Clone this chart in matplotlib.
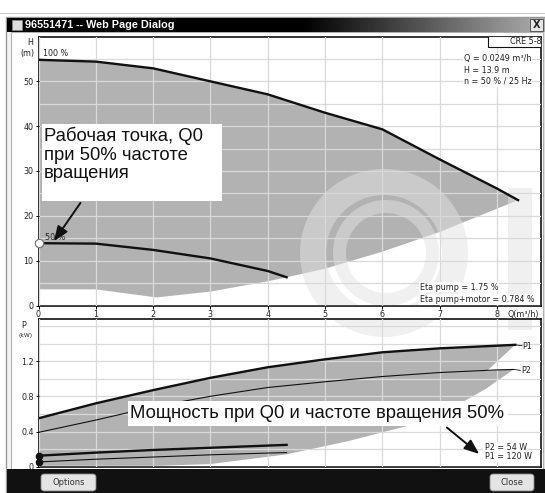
import numpy as np
import matplotlib.pyplot as plt
from matplotlib.patches import Rectangle, Annulus, FancyBboxPatch

# head curves, H (m) over Q (m3/h)
q_h100 = [0, 1, 2, 3, 4, 5, 6, 7, 8, 8.37]
h_100 = [54.8, 54.4, 52.9, 50.0, 47.1, 43.0, 39.3, 32.6, 26.1, 23.5]
q_h50 = [0, 1, 2, 3, 4, 4.33]
h_50 = [13.9, 13.8, 12.4, 10.5, 7.7, 6.3]
q_hmin = [0, 1, 2.06, 3, 4, 4.33, 5, 6, 7, 8.37]
h_min = [3.6, 3.6, 1.8, 3.1, 5.4, 6.3, 8.2, 12.0, 16.4, 23.5]

# power curves, P (kW)
q_p1 = [0, 1, 2, 3, 4, 5, 6, 7, 8, 8.32]
p1_100 = [0.55, 0.72, 0.87, 1.01, 1.13, 1.22, 1.30, 1.345, 1.375, 1.385]
q_p2 = [0, 1, 2, 3, 4, 5, 6, 7, 8, 8.29]
p2_100 = [0.39, 0.53, 0.68, 0.80, 0.90, 0.965, 1.025, 1.07, 1.10, 1.105]
q_p1_low = [8.32, 7.82]
p1_low = [1.385, 1.085]
q_p2_low = [0, 2.1, 3.0, 4.33, 5.4, 6.6, 7.15, 7.82, 8.29]
p2_low = [0.01, 0.01, 0.03, 0.14, 0.29, 0.49, 0.64, 0.89, 1.105]
q_p50 = [0, 1, 2, 3, 4, 4.33]
p1_50 = [0.125, 0.16, 0.19, 0.215, 0.24, 0.248]
p2_50 = [0.054, 0.085, 0.11, 0.135, 0.155, 0.16]

x_ticks = [0, 1, 2, 3, 4, 5, 6, 7, 8]
h_ticks = [0, 10, 20, 30, 40, 50]
p_ticks = [0, 0.4, 0.8, 1.2]
p_tick_labels = ['0', '0.4', '0.8', '1.2']

W, H = 545, 493
fig = plt.figure(figsize=(W / 100, H / 100), dpi=100)


def box(x0, y0, x1, y1):
    # pixel box measured from the top left -> figure fraction rect
    return [x0 / W, 1 - y1 / H, (x1 - x0) / W, (y1 - y0) / H]


def fig_rect(x0, y0, x1, y1, zorder=-5, **kw):
    r = box(x0, y0, x1, y1)
    fig.add_artist(Rectangle((r[0], r[1]), r[2], r[3], transform=fig.transFigure,
                             zorder=zorder, **kw))


small = dict(fontsize=5.8, family='DejaVu Sans', color='#222222')
big = dict(fontsize=13.3, family='Liberation Sans', color='#111111')
fill_grey = '#b2b2b2'
grid_grey = '#d9d9d9'

# ---- window chrome
fig_rect(0, 13.5, 545, 14.2, fc='#c8c8c8', ec='none')
fig_rect(6, 17, 545, 493, fc='#f4f4f4', ec='#9a9a9a', lw=1)
fig_rect(11, 32, 543, 469, fc='white', ec='#b0b0b0', lw=0.8)

ax_t = fig.add_axes(box(7, 18, 545, 32))
grad = np.clip((np.linspace(0, 1, 400) - 0.55) / 0.45, 0, 1) * 0.68
ax_t.imshow(grad[None, :], cmap='gray', vmin=0, vmax=1, aspect='auto', extent=(0, 1, 0, 1))
ax_t.set_xlim(0, 1)
ax_t.set_ylim(0, 1)
ax_t.axis('off')
ax_t.add_patch(Rectangle((0.01, 0.15), 0.017, 0.7, fc='#dddddd', ec='#888888', lw=0.6))
ax_t.text(0.034, 0.5, '96551471 -- Web Page Dialog', color='white', fontsize=7.8,
          family='Liberation Sans', weight='bold', va='center')
ax_t.add_patch(Rectangle((0.972, 0.1), 0.024, 0.8, fc='#e6e6e6', ec='#555555', lw=0.7))
ax_t.text(0.984, 0.5, 'X', fontsize=7, weight='bold', ha='center', va='center', color='#222222')

fig_rect(7, 469, 545, 493, fc='#111111', ec='none')
for x0, x1, label in [(41, 96, 'Options'), (490, 534, 'Close')]:
    r = box(x0, 474, x1, 491)
    fig.add_artist(FancyBboxPatch((r[0], r[1]), r[2], r[3], transform=fig.transFigure,
                                  boxstyle='round,pad=0,rounding_size=0.006',
                                  fc='#e4e4e4', ec='#888888', lw=0.6))
    fig.text(r[0] + r[2] / 2, r[1] + r[3] / 2, label, ha='center', va='center',
             fontsize=6, family='DejaVu Sans', color='#333333')


def watermark(a):
    kw = dict(transform=fig.dpi_scale_trans, fc='#e2e2e2', ec='none', alpha=0.5, zorder=1.5)
    a.add_patch(Annulus((3.84, 2.40), 0.84, 0.26, **kw))
    a.add_patch(Annulus((3.86, 2.40), 0.53, 0.13, **kw))
    a.add_patch(Rectangle((5.08, 1.63), 0.24, 1.42, **kw))


def style(a):
    a.set_axisbelow(False)
    a.grid(True, which='both', color=grid_grey, lw=0.9)
    for s in a.spines.values():
        s.set_color('#111111')
        s.set_linewidth(1.2)
    a.tick_params(which='major', direction='out', length=2, width=0.7, pad=1.5, labelsize=5.8,
                  labelcolor='#222222')
    a.tick_params(which='minor', length=0)


# ---- head chart
ax = fig.add_axes(box(38.5, 36.5, 541, 305.5))
ax.fill(np.concatenate([q_h100, q_hmin[::-1]]), np.concatenate([h_100, h_min[::-1]]),
        color=fill_grey, lw=0, zorder=1)
watermark(ax)
ax.plot(q_h100, h_100, color='#111111', lw=1.7, zorder=3)
ax.plot(q_h50, h_50, color='#111111', lw=1.7, zorder=3)
ax.plot(q_h50[0], h_50[0], 'o', ms=6, mfc='white', mec='#777777', mew=0.9, zorder=4, clip_on=False)
ax.set_xticks(x_ticks)
ax.set_yticks(h_ticks)
ax.set_yticks([5, 15, 25, 35, 45, 55], minor=True)
style(ax)
ax.set_xlim(0, 8.77)
ax.set_ylim(0, 60)

ax.text(0.08, h_100[0] + 0.4, '100 %', va='bottom', **small)
ax.text(0.12, h_50[0] + 0.3, '50 %', va='bottom', **small)
ax.text(-0.011, 0.978, 'H', transform=ax.transAxes, ha='right', va='center', **small)
ax.text(-0.008, 0.9375, '(m)', transform=ax.transAxes, ha='right', va='center', **small)
ax.text(0.997, -0.032, 'Q(m³/h)', transform=ax.transAxes, ha='right', va='center', **small)
ax.add_patch(Rectangle((0.8945, 0.961), 0.1055, 0.039, transform=ax.transAxes,
                       fc='white', ec='#111111', lw=0.8, zorder=5))
ax.text(0.97, 0.981, 'CRE 5-8', transform=ax.transAxes, ha='center', va='center', zorder=6, **small)
bg = dict(fc='white', ec='none', pad=0.6)
for yy, s in [(55.0, 'Q = 0.0249 m³/h'), (52.4, 'H = 13.9 m'), (50.0, 'n = 50 % / 25 Hz')]:
    ax.text(7.42, yy, s, va='center', bbox=bg, zorder=6, **small)
for yy, s in [(4.1, 'Eta pump = 1.75 %'), (1.3, 'Eta pump+motor = 0.784 %')]:
    ax.text(6.65, yy, s, va='center', bbox=bg, zorder=6, **small)

ax.add_patch(Rectangle((0.056, 23.4), 3.14, 17.1, fc='white', ec='none', zorder=6))
ax.text(0.09, 39.8, 'Рабочая точка, Q0\nпри 50% частоте\nвращения', va='top',
        linespacing=1.1, zorder=7, **big)
ax.annotate('', xy=(0.24, 13.8), xytext=(0.76, 23.4), zorder=7,
            arrowprops=dict(arrowstyle='-|>,head_length=0.9,head_width=0.35', color='#111111', lw=1.4))

# ---- power chart
ax2 = fig.add_axes(box(38.5, 319.3, 541, 466.7))
q_cross, p_cross = q_p1_low[-1], p1_low[-1]
poly_q = q_p1 + [q_cross] + [q for q in q_p2 if q > q_cross] + q_p2_low[::-1][1:]
poly_p = p1_100 + [p_cross] + [p for q, p in zip(q_p2, p2_100) if q > q_cross] + p2_low[::-1][1:]
ax2.fill(poly_q, poly_p, color=fill_grey, lw=0, zorder=1)
watermark(ax2)
ax2.plot(q_p1, p1_100, color='#111111', lw=1.7, zorder=3)
ax2.plot(q_p2, p2_100, color='#111111', lw=0.8, zorder=3)
ax2.plot(q_p50, p1_50, color='#111111', lw=1.7, zorder=3)
ax2.plot(q_p50, p2_50, color='#111111', lw=0.8, zorder=3)
ax2.plot([q_p50[0]] * 2, [p1_50[0], p2_50[0]], 'o', color='#111111', ms=4.5, zorder=4, clip_on=False)
for qe, pe, name in [(q_p1[-1], p1_100[-1], 'P1'), (q_p2[-1], p2_100[-1], 'P2')]:
    ax2.plot([qe, qe + 0.12], [pe, pe - 0.01], color='#111111', lw=0.6, zorder=3)
    ax2.text(qe + 0.13, pe - 0.015, name, va='center', **small)
ax2.set_xticks(x_ticks)
ax2.set_yticks(p_ticks)
ax2.set_yticklabels(p_tick_labels)
ax2.set_yticks([0.2, 0.6, 1.0, 1.4, 1.6], minor=True)
style(ax2)
ax2.tick_params(axis='x', labelbottom=False, length=0)
ax2.set_xlim(0, 8.77)
ax2.set_ylim(0, 1.675)
ax2.text(-0.025, 0.961, 'P', transform=ax2.transAxes, ha='right', va='center', **small)
ax2.text(-0.012, 0.889, '(kW)', transform=ax2.transAxes, ha='right', va='center',
         fontsize=4.3, family='DejaVu Sans', color='#222222')
ax2.text(7.79, 0.219, 'P2 = 54 W', va='center', bbox=bg, zorder=6, **small)
ax2.text(7.79, 0.112, 'P1 = 120 W', va='center', bbox=bg, zorder=6, **small)

ax2.add_patch(Rectangle((1.56, 0.465), 6.63, 0.284, fc='white', ec='none', zorder=6))
ax2.text(1.6, 0.605, 'Мощность при Q0 и частоте вращения 50%', va='center', zorder=7, **big)
ax2.annotate('', xy=(7.73, 0.124), xytext=(7.09, 0.465), zorder=7,
             arrowprops=dict(arrowstyle='-|>,head_length=0.9,head_width=0.35', color='#111111', lw=1.4))

fig.savefig('out.png', dpi=100)
